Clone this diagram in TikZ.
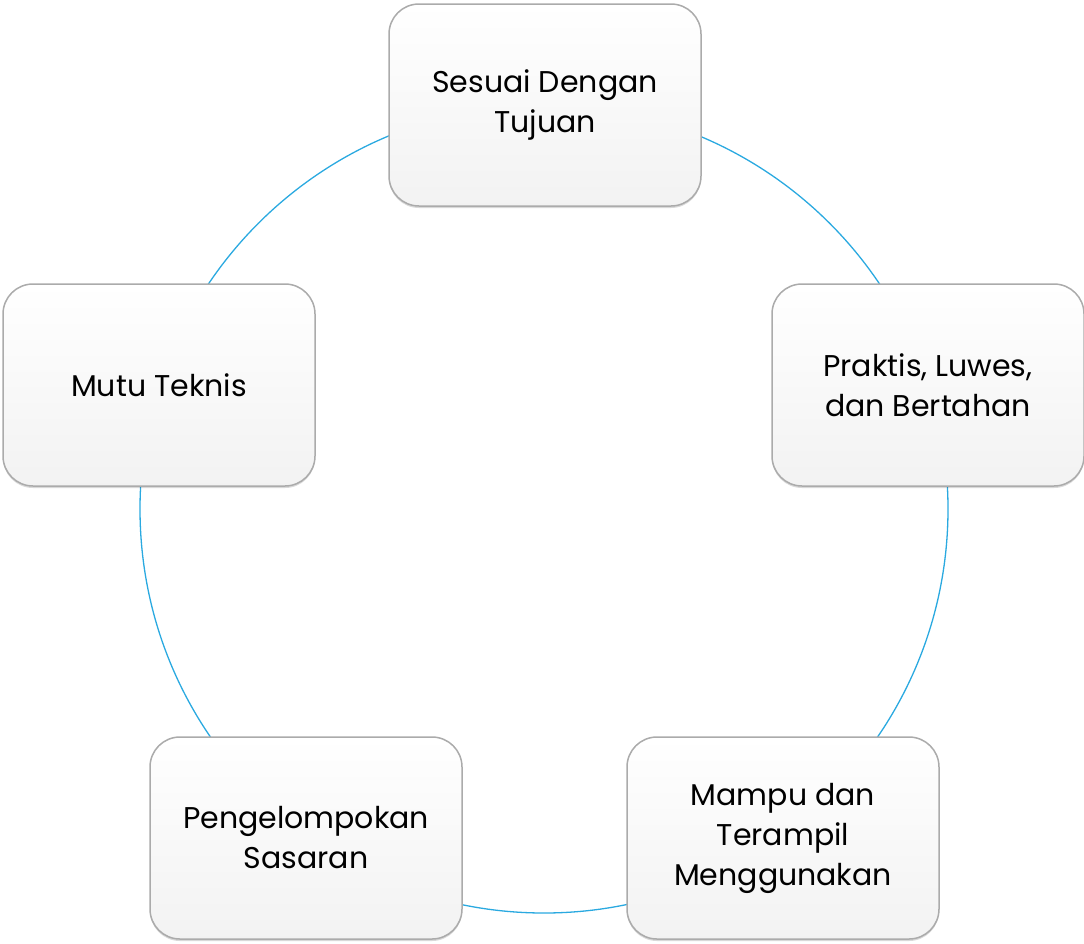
\documentclass[tikz,border=0pt]{standalone}
\usepackage{fontspec}
\setmainfont{Poppins}
\usetikzlibrary{shadows}
\definecolor{ringblue}{HTML}{2AA9E0}
\definecolor{boxline}{HTML}{ABABAB}
\begin{document}
\begin{tikzpicture}[x=1pt,y=-1pt,
  card/.style={draw=boxline, line width=1.5pt, rounded corners=30pt,
    minimum width=312pt, minimum height=202pt, inner sep=0pt,
    top color=white, bottom color=black!5, shading angle=0,
    align=center, font=\fontsize{30}{40}\selectfont,
    drop shadow={shadow xshift=0pt, shadow yshift=-2pt, opacity=0.15, fill=black}},
  ring/.style={draw=ringblue, line width=1.3pt}]
\useasboundingbox (0,0) rectangle (1084,943);
\coordinate (c) at (544,509);
\draw[ring] (c) circle[radius=404pt];
\node[card] (top) at (545,105) {Sesuai Dengan\\Tujuan};
\node[card] (right) at (928,385) {Praktis, Luwes,\\dan Bertahan};
\node[card] (br) at (783,838) {Mampu dan\\Terampil\\Menggunakan};
\node[card] (bl) at (306,838) {Pengelompokan\\Sasaran};
\node[card] (left) at (159,385) {Mutu Teknis};
\end{tikzpicture}
\end{document}
